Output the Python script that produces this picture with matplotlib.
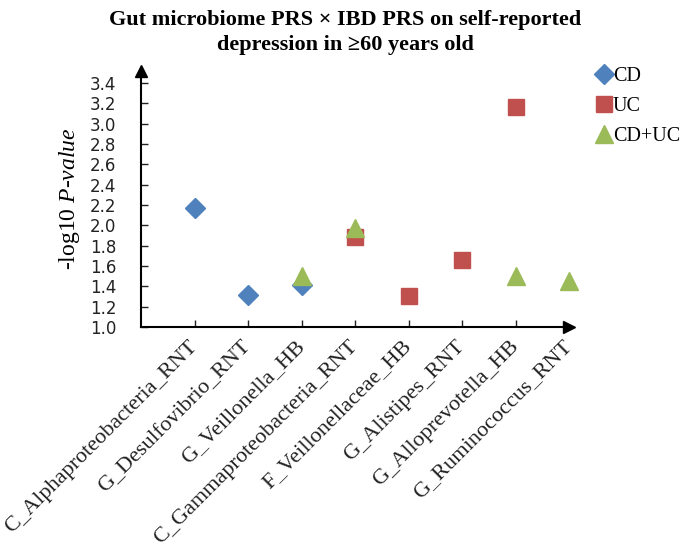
import numpy as np
import matplotlib.pyplot as plt

# Data
categories = ["C_Alphaproteobacteria_RNT", "G_Desulfovibrio_RNT", "G_Veillonella_HB",
              "C_Gammaproteobacteria_RNT", "F_Veillonellaceae_HB", "G_Alistipes_RNT",
              "G_Alloprevotella_HB", "G_Ruminococcus_RNT"]
cd = [2.17, 1.31, 1.41, np.nan, np.nan, np.nan, np.nan, np.nan]
uc = [np.nan, np.nan, np.nan, 1.89, 1.30, 1.66, 3.16, np.nan]
cd_uc = [np.nan, np.nan, 1.50, 1.97, np.nan, np.nan, 1.50, 1.45]
yticks = [1.0, 1.2, 1.4, 1.6, 1.8, 2.0, 2.2, 2.4, 2.6, 2.8, 3.0, 3.2, 3.4]

plt.rcParams['font.family'] = ['Liberation Serif', 'DejaVu Sans']
plt.rcParams['mathtext.fontset'] = 'custom'
plt.rcParams['mathtext.it'] = 'Liberation Serif:italic'
plt.rcParams['mathtext.rm'] = 'Liberation Serif'

fig = plt.figure(figsize=(6.9, 5.58), dpi=100)
ax = fig.add_axes([0.205, 0.414, 0.62, 0.459])

x = np.arange(1, len(categories) + 1)
ax.plot(x, cd, ls='none', marker='D', ms=10, color='#4F81BD', label='CD', clip_on=False)
ax.plot(x, uc, ls='none', marker='s', ms=11.5, color='#C0504D', label='UC', clip_on=False)
ax.plot(x, cd_uc, ls='none', marker='^', ms=13, color='#9BBB59', label='CD+UC', clip_on=False)

ax.set_xlim(0, 8)
ax.set_ylim(1.0, 3.52)
ax.set_yticks(yticks)
ax.set_yticklabels([f"{v:.1f}" for v in yticks], family='DejaVu Sans', fontsize=12, color='#222222')
ax.set_xticks(x)
ax.set_xticklabels(categories, rotation=45, ha='right', rotation_mode='anchor',
                   fontsize=16, color='#333333')
for t in ax.get_xticklabels():
    t.set_va('center')
ax.tick_params(axis='both', direction='in', length=5, width=1, colors='#222222')
ax.tick_params(axis='x', pad=12)
ax.tick_params(axis='y', pad=18)
ax.xaxis.get_major_ticks()[-1].tick1line.set_visible(False)
ax.spines['top'].set_visible(False)
ax.spines['right'].set_visible(False)
ax.spines['left'].set_linewidth(1.5)
ax.spines['bottom'].set_linewidth(1.5)
# axis arrows
ax.plot(1, 0, '>k', ms=8, transform=ax.transAxes, clip_on=False)
ax.plot(0, 1, '^k', ms=8, transform=ax.transAxes, clip_on=False)

ax.set_ylabel(r'-log10 $\mathit{P}$-$\mathit{value}$', fontsize=17)
ax.yaxis.set_label_coords(-0.14, 0.5)

fig.text(0.5, 0.982, "Gut microbiome PRS \u00d7 IBD PRS on self-reported\ndepression in \u226560 years old",
         ha='center', va='top', fontsize=16, fontweight='bold', linespacing=1.3)

fig.legend(loc='upper left', bbox_to_anchor=(0.85, 0.895), frameon=False,
           handletextpad=0.0, handlelength=0.9, labelspacing=0.55, fontsize=14.5,
           borderaxespad=0)

plt.savefig('out.png', dpi=100)
